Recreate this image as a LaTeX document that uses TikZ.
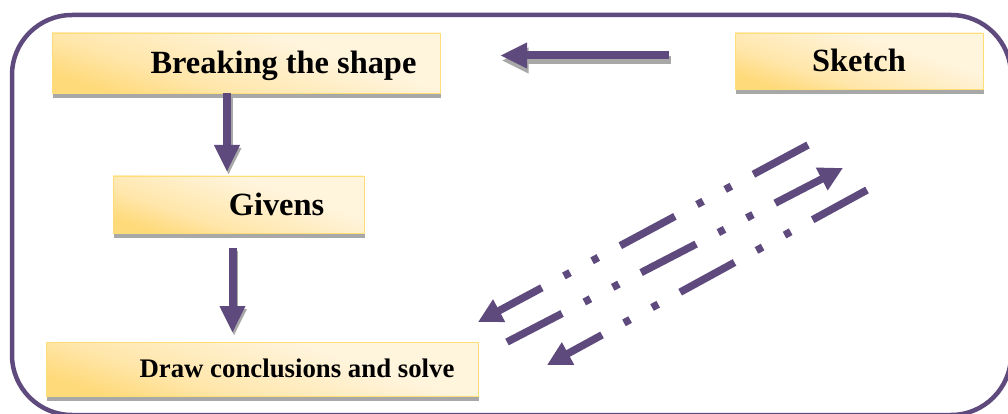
\documentclass[tikz,border=0pt]{standalone}
\usepackage{fontspec}
\setmainfont{Liberation Serif}
\usetikzlibrary{arrows.meta,shadows}
\definecolor{frm}{RGB}{95,74,125}
\definecolor{gd}{RGB}{255,218,122}
\definecolor{gdm}{RGB}{255,230,170}
\definecolor{cr}{RGB}{255,244,220}
\definecolor{gdline}{RGB}{255,222,120}
\definecolor{shg}{RGB}{168,168,168}
\pgfdeclareverticalshading{boxshade}{100bp}{color(0bp)=(gd); color(25bp)=(gd); color(38bp)=(gdm); color(62bp)=(cr); color(100bp)=(cr)}
\begin{document}
\begin{tikzpicture}[x=1pt,y=-1pt,
  frame/.style={draw=frm, line width=4.5pt, rounded corners=60pt},
  box/.style={shading=boxshade, shading angle=-18, draw=gdline, line width=0.6pt,
    inner sep=0pt, text height=21.4pt, text depth=0pt,
    font=\bfseries\fontsize{32.4}{36}\selectfont,
    drop shadow={shadow xshift=0.8pt, shadow yshift=-5pt, fill=shg, opacity=1}},
  smallbox/.style={box, text height=17.7pt, font=\bfseries\fontsize{26.8}{30}\selectfont},
  solidarr/.style={draw=frm, line width=8pt, -{Triangle[length=27pt,width=24pt]}},
  arrsh/.style={draw=shg, line width=8pt, -{Triangle[length=27pt,width=24pt]}},
  dasharr/.style={draw=frm, line width=7.5pt,
    dash pattern=on 62pt off 25pt on 7pt off 25pt on 7pt off 25pt,
    -{Triangle[length=24pt,width=24pt]}}
]
\useasboundingbox (0,0) rectangle (1008,414);
\draw[frame] (12,15) rectangle (1011,415);

\node[box, minimum width=388pt, minimum height=60pt] (brk) at (246,63) {\hspace*{75pt}Breaking the shape};
\node[box, minimum width=248pt, minimum height=56pt] (sk) at (859,61) {Sketch};
\node[box, minimum width=251pt, minimum height=57pt] (giv) at (238.5,204.5) {\hspace*{76pt}Givens};
\node[smallbox, minimum width=432pt, minimum height=54pt] (drw) at (262,369) {\hspace*{70pt}Draw conclusions and solve};

% solid arrows
\coordinate (a1s) at (227,93);
\coordinate (a1e) at (227,172);
\coordinate (a2s) at (232.5,248);
\coordinate (a2e) at (232.5,333);
\coordinate (a3s) at (669,55.5);
\coordinate (a3e) at (500,55.5);
\draw[arrsh] ([shift={(1.5,3)}]a1s) -- ([shift={(1.5,3)}]a1e);
\draw[arrsh] ([shift={(1.5,3)}]a2s) -- ([shift={(1.5,3)}]a2e);
\draw[arrsh] ([shift={(1.5,5)}]a3s) -- ([shift={(1.5,5)}]a3e);
\draw[solidarr] (a1s) -- (a1e);
\draw[solidarr] (a2s) -- (a2e);
\draw[solidarr] (a3s) -- (a3e);

% dash-dot-dot arrows
\coordinate (d1s) at (808,145);
\coordinate (d1e) at (478,322);
\coordinate (d2s) at (507,342);
\coordinate (d2e) at (843,168);
\coordinate (d3s) at (867,190);
\coordinate (d3e) at (547,365);
\draw[dasharr] (d1s) -- (d1e);
\draw[dasharr] (d2s) -- (d2e);
\draw[dasharr] (d3s) -- (d3e);
\end{tikzpicture}
\end{document}
